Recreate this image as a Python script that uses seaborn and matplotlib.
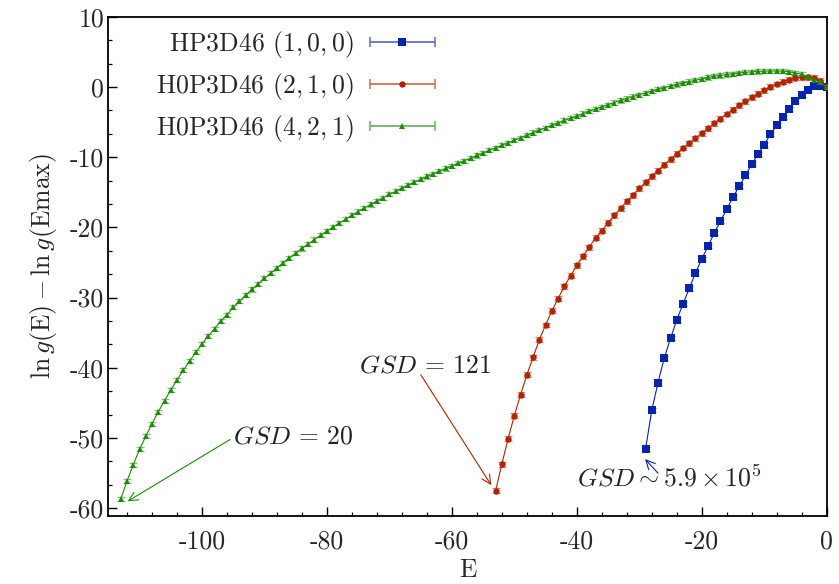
import numpy as np
import pandas as pd
import seaborn as sns
import matplotlib
matplotlib.use("Agg")
import matplotlib.pyplot as plt
from matplotlib.lines import Line2D
from matplotlib.legend_handler import HandlerBase
from matplotlib.ticker import MultipleLocator, AutoMinorLocator, FuncFormatter
from matplotlib.colors import to_rgb

# ---- density of states, normalised to the value at E_max = 0 ----
blue_E = list(range(-29, 1))
blue_V = [-51.6, -46.05, -42.1, -38.6, -35.8, -33.2, -30.9, -28.7, -26.5, -24.5,
          -22.7, -20.8, -19.1, -17.4, -15.7, -14.15, -12.6, -11.0, -9.6, -8.2,
          -6.75, -5.47, -4.28, -3.19, -2.05, -1.2, -0.48, 0.09, 0.17, 0.0]

red_E = list(range(-53, 1))
red_V = [-57.5, -53.7, -50.1, -46.8, -43.8, -41.0, -38.5, -36.0, -33.9, -31.9,
         -30.15, -28.4, -26.9, -25.4, -24.1, -22.8, -21.5, -20.5, -19.35, -18.3,
         -17.3, -16.3, -15.4, -14.45, -13.6, -12.7, -11.9, -11.1, -10.3, -9.5,
         -8.7, -8.0, -7.3, -6.6, -5.9, -5.2, -4.5, -3.85, -3.24, -2.6,
         -2.05, -1.48, -0.96, -0.48, 0.0, 0.42, 0.74, 1.03, 1.27, 1.37,
         1.40, 1.28, 0.89, 0.03]

green_E = list(range(-113, 1))
green_V = [-58.7, -56.1, -53.8, -51.6, -49.75, -47.95, -46.24, -44.68, -43.15, -41.73,
           -40.35, -39.07, -37.79, -36.6, -35.47, -34.43, -33.37, -32.43, -31.38, -30.52,
           -29.66, -28.84, -28.04, -27.26, -26.5, -25.76, -25.04, -24.34, -23.66, -23.0,
           -22.36, -21.73, -21.12, -20.52, -19.94, -19.37, -18.82, -18.28, -17.75, -17.24,
           -16.74, -16.25, -15.77, -15.3, -14.85, -14.41, -13.98, -13.56, -13.15, -12.75,
           -12.36, -11.98, -11.61, -11.24, -10.87, -10.5, -10.13, -9.76, -9.39, -9.02,
           -8.66, -8.3, -7.94, -7.58, -7.22, -6.86, -6.5, -6.14, -5.8, -5.46,
           -5.12, -4.78, -4.45, -4.12, -3.79, -3.46, -3.14, -2.83, -2.52, -2.22,
           -1.93, -1.65, -1.37, -1.1, -0.84, -0.59, -0.34, -0.1, 0.13, 0.35,
           0.56, 0.76, 0.95, 1.13, 1.35, 1.52, 1.64, 1.77, 1.88, 1.99,
           2.08, 2.15, 2.21, 2.25, 2.27, 2.27, 2.25, 2.15, 2.0, 1.8,
           1.42, 1.05, 0.65, 0.0]

# statistical uncertainty of each series
blue_err = 0.3
red_err = 0.35
green_err = 0.3

labels = ["HP3D46 $(1,0,0)$", "H0P3D46 $(2,1,0)$", "H0P3D46 $(4,2,1)$"]
colors = ["#0624ac", "#b22400", "#1e8c08"]
markers = ["s", "o", "^"]
msizes = [5.2, 4.6, 4.4]

sns.set_style("ticks")
plt.rcParams["font.family"] = ["cmr10", "DejaVu Serif"]
plt.rcParams["mathtext.fontset"] = "cm"
plt.rcParams["axes.unicode_minus"] = False
plt.rcParams["axes.formatter.use_mathtext"] = True

FS = 18.5

fig = plt.figure(figsize=(8.39, 5.84), dpi=100)
ax = fig.add_axes([0.1291, 0.1164, 0.8562, 0.855])


def lighten(c, f=0.45):
    r, g, b = to_rgb(c)
    return (r + (1 - r) * f, g + (1 - g) * f, b + (1 - b) * f)


series = [(blue_E, blue_V, blue_err), (red_E, red_V, red_err), (green_E, green_V, green_err)]
handles = []
for (E, V, err), lab, col, mk, ms in zip(series, labels, colors, markers, msizes):
    df = pd.DataFrame({"E": E, "V": V})
    ax.errorbar(df["E"], df["V"], yerr=err, fmt="none", ecolor=lighten(col),
                elinewidth=0.9, capsize=2.6, capthick=0.9, zorder=2)
    sns.lineplot(data=df, x="E", y="V", ax=ax, color=col, marker=mk,
                 markersize=ms, markeredgewidth=0, linewidth=0.8, zorder=3,
                 label=lab, legend=False)
    handles.append(ax.lines[-1])


class ErrorbarKey(HandlerBase):
    """Horizontal error-bar style key: light bar with end caps and a marker."""

    def create_artists(self, legend, orig_handle, xdescent, ydescent,
                       width, height, fontsize, trans):
        col = orig_handle.get_color()
        light = lighten(col, 0.4)
        y = height / 2 - ydescent
        x0, x1 = -xdescent, width - xdescent
        bar = Line2D([x0, x1], [y, y], color=light, lw=1.4, transform=trans)
        caps = Line2D([x0, x1], [y, y], ls="none", marker="|", ms=7,
                      mew=1.2, mec=light, transform=trans)
        mark = Line2D([(x0 + x1) / 2], [y], ls="none",
                      marker=orig_handle.get_marker(),
                      ms=orig_handle.get_markersize(), mew=0,
                      color=col, transform=trans)
        return [bar, caps, mark]


# key text sits left of the sample; rows are right-aligned when markerfirst=False
leg = ax.legend(handles=handles, labels=labels, loc="upper left",
                bbox_to_anchor=(156 / 839, 1 - 29 / 584),
                bbox_transform=fig.transFigure, frameon=False,
                markerfirst=False, fontsize=FS, handlelength=2.55,
                handletextpad=0.62, labelspacing=0.42, borderpad=0,
                borderaxespad=0,
                handler_map={h: ErrorbarKey() for h in handles})

ax.set_xlim(-115, 0)
ax.set_ylim(-61.1, 10)
ax.xaxis.set_major_locator(MultipleLocator(20))
ax.xaxis.set_minor_locator(AutoMinorLocator(5))
ax.yaxis.set_major_locator(MultipleLocator(10))
ax.yaxis.set_minor_locator(AutoMinorLocator(3))
fmt = FuncFormatter(lambda v, p: "%d" % round(v))
ax.xaxis.set_major_formatter(fmt)
ax.yaxis.set_major_formatter(fmt)
ax.tick_params(axis="both", which="both", direction="in", top=False,
               right=False, labelsize=FS, color="black")
ax.tick_params(axis="x", which="major", length=6.5, width=1.0, pad=10)
ax.tick_params(axis="y", which="major", length=6.5, width=1.0, pad=3)
ax.tick_params(which="minor", length=3.2, width=0.9)
for s in ax.spines.values():
    s.set_linewidth(1.3)
    s.set_color("black")
    s.set_visible(True)

ax.set_xlabel("E", fontsize=FS, labelpad=3)
ax.set_ylabel(r"$\ln g(\mathrm{E}) - \ln g(\mathrm{Emax})$", fontsize=FS, labelpad=8)

# annotations for the ground-state degeneracies
ann = [
    (r"$GSD\,=\,20$", (-95.0, -49.8), (-95.5, -50.2), (-111.9, -59.0), colors[2]),
    (r"$GSD\,=\,121$", (-74.8, -39.7), (-64.96, -41.0), (-53.7, -56.7), colors[1]),
    (r"$GSD \sim 5.9\times10^5$", (-39.9, -55.7), (-27.0, -55.0), (-29.07, -53.0), colors[0]),
]
for txt, tpos, tail, head, col in ann:
    ax.text(tpos[0], tpos[1], txt, fontsize=FS, ha="left", va="center",
            color="#222222")
    ax.annotate("", xy=head, xytext=tail,
                arrowprops=dict(arrowstyle="->", color=col, lw=0.8,
                                mutation_scale=16, shrinkA=0, shrinkB=0))

fig.savefig("out.png", dpi=100)
